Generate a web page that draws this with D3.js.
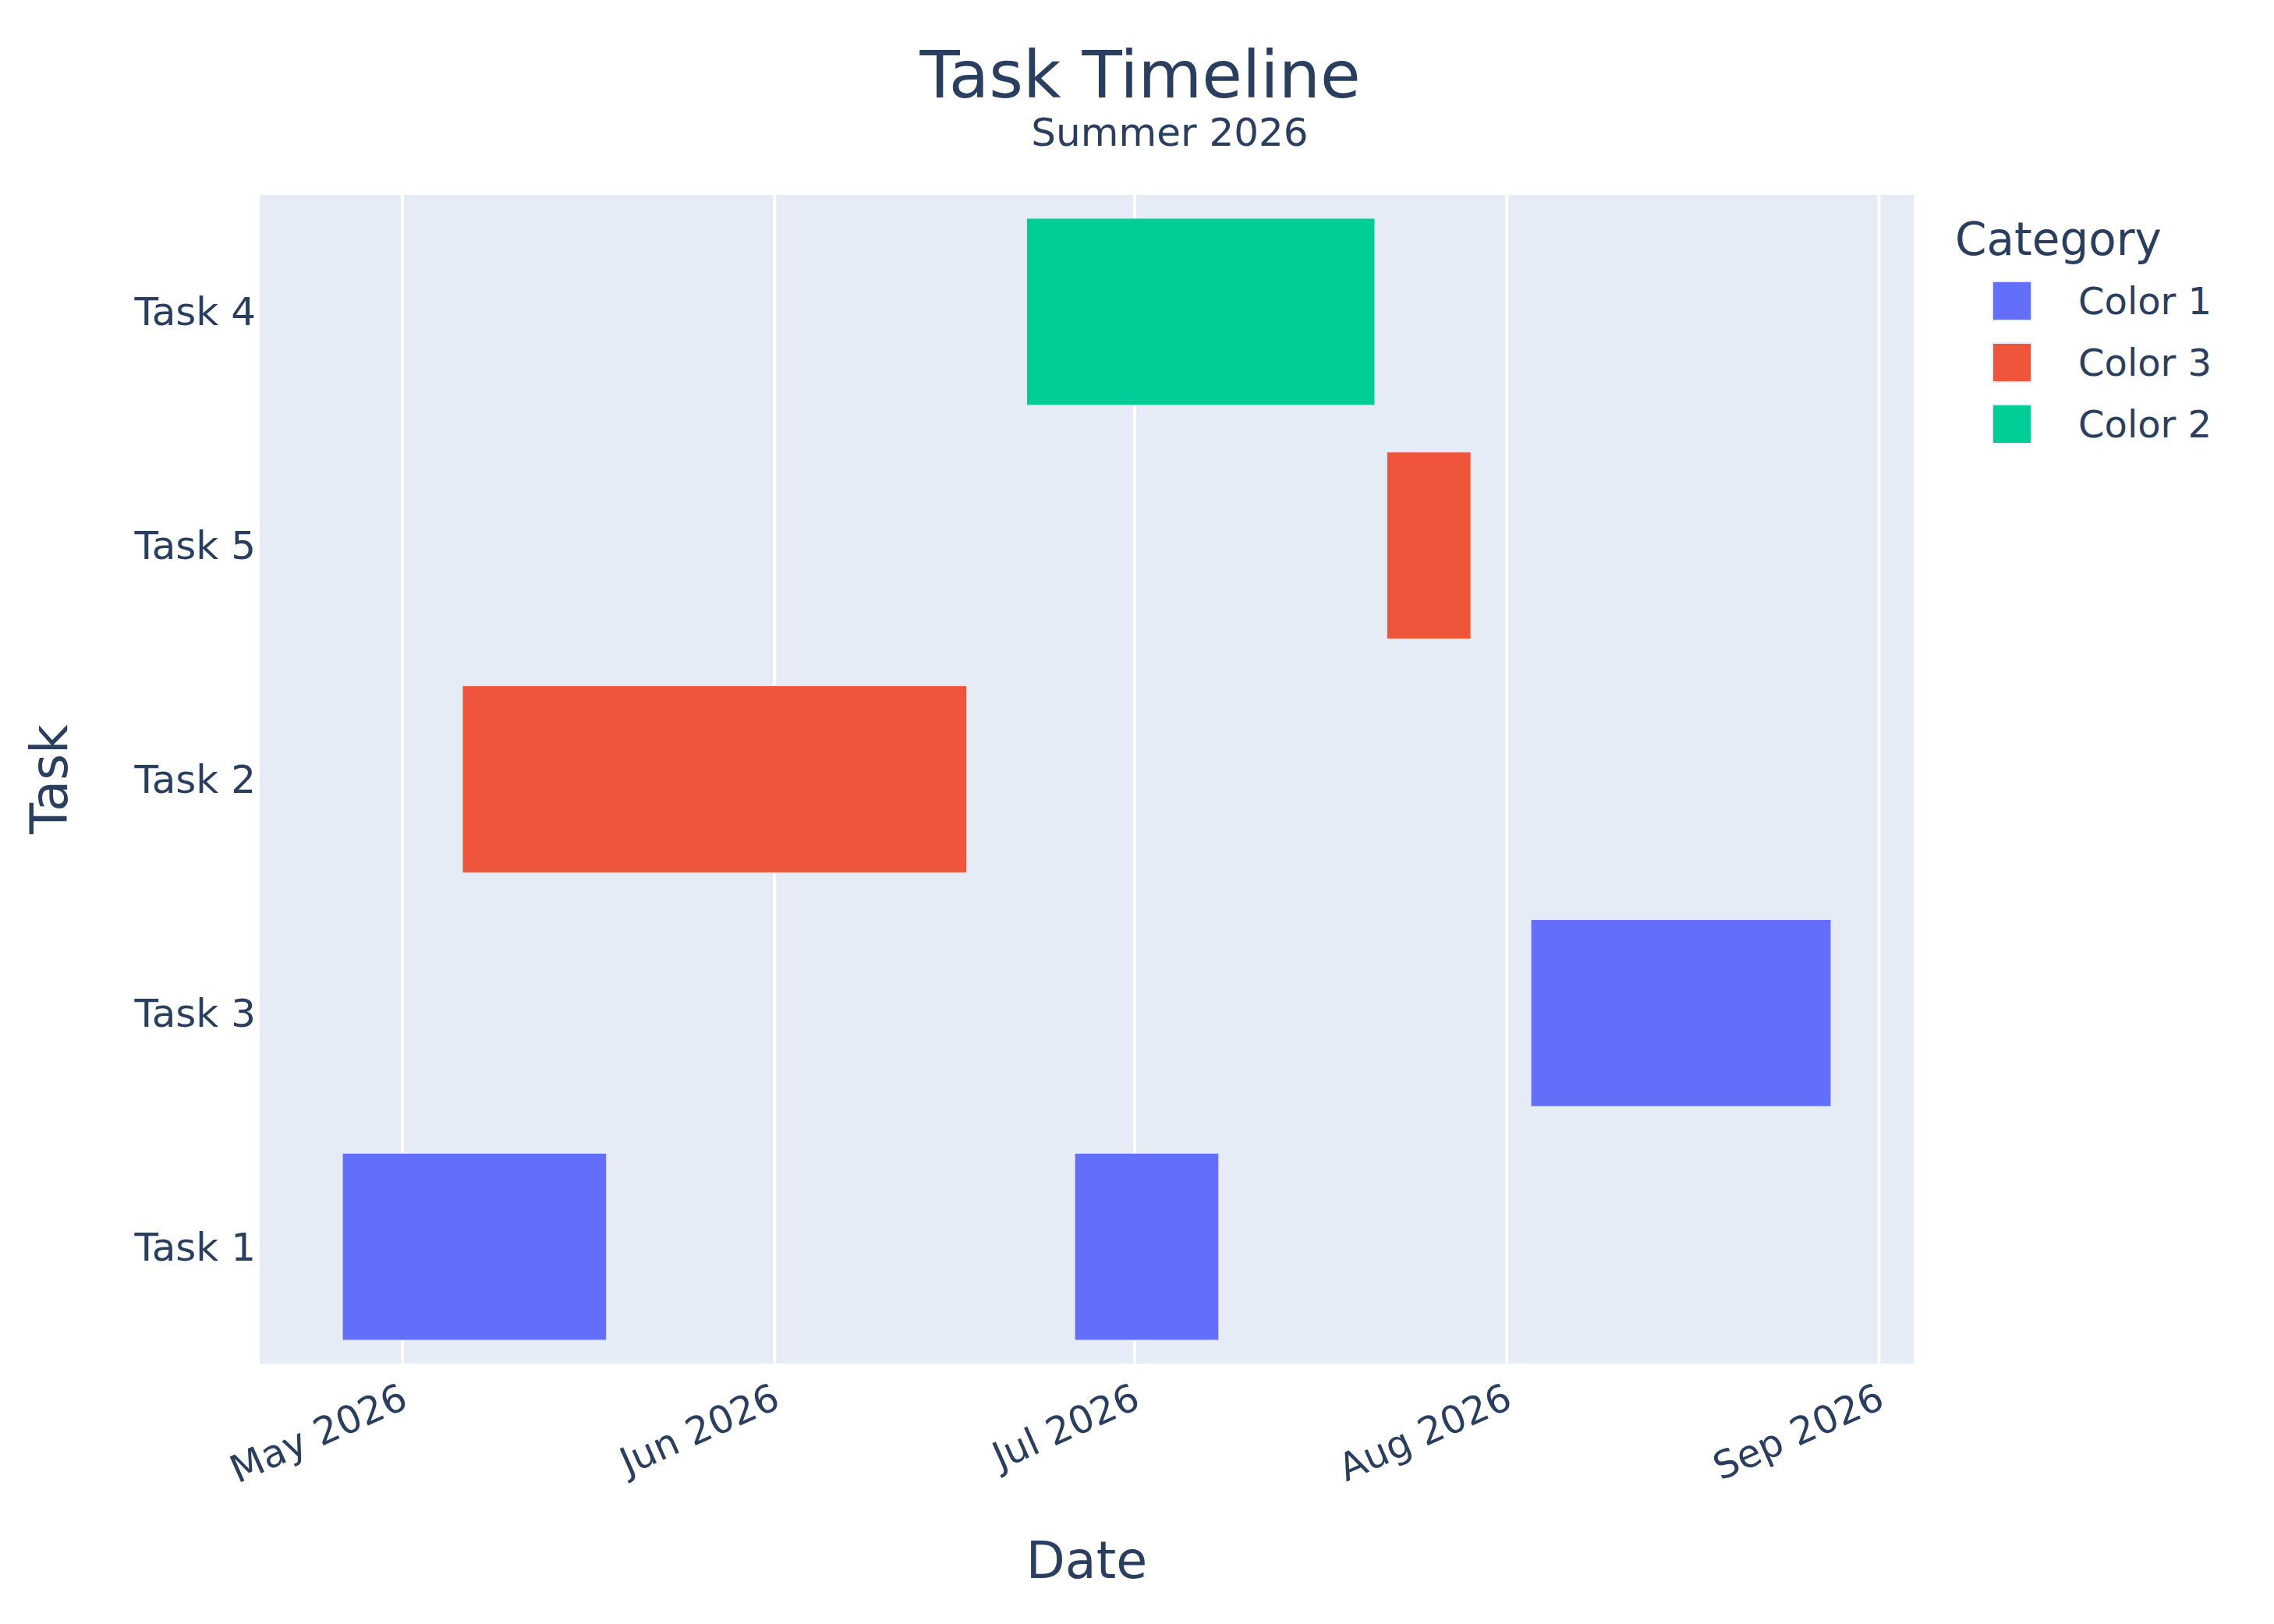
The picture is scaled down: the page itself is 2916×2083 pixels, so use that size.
<!DOCTYPE html>
<html>
<head>
<meta charset="utf-8">
<script src="https://cdn.jsdelivr.net/npm/d3@7"></script>
<style>
  body { margin: 0; background: #fff; }
  text { font-family: "DejaVu Sans", Verdana, sans-serif; fill: #2a3f5f; }
</style>
</head>
<body>
<div id="chart"></div>
<script>
// task rows, top to bottom as shown
const taskOrder = ["Task 4", "Task 5", "Task 2", "Task 3", "Task 1"];

// one entry per bar
const barTask = ["Task 1", "Task 2", "Task 1", "Task 4", "Task 5", "Task 3"];
const barStart = ["2026-04-26", "2026-05-06", "2026-06-26", "2026-06-22", "2026-07-22", "2026-08-03"];
const barEnd = ["2026-05-18", "2026-06-17", "2026-07-08", "2026-07-21", "2026-07-29", "2026-08-28"];
const barCategory = ["Color 1", "Color 3", "Color 1", "Color 2", "Color 3", "Color 1"];

// legend
const categories = ["Color 1", "Color 3", "Color 2"];
const categoryColors = ["#636efa", "#ef553b", "#00cc96"];

const width = 2916, height = 2083;
const margin = { top: 250, right: 462, bottom: 334, left: 333 };
const innerWidth = width - margin.left - margin.right;
const innerHeight = height - margin.top - margin.bottom;

const parse = d3.utcParse("%Y-%m-%d");
const bars = barTask.map((t, i) => ({
    task: t,
    start: parse(barStart[i]),
    end: parse(barEnd[i]),
    category: barCategory[i]
}));

const svg = d3.select("#chart").append("svg")
    .attr("width", width)
    .attr("height", height);

const g = svg.append("g")
    .attr("transform", `translate(${margin.left},${margin.top})`);

// x range padded like plotly's autorange (5% of the axis length on each side)
const minT = d3.min(bars, d => d.start).getTime();
const maxT = d3.max(bars, d => d.end).getTime();
const pad = (maxT - minT) * 0.05 / 0.9;

const x = d3.scaleUtc()
    .domain([new Date(minT - pad), new Date(maxT + pad)])
    .range([0, innerWidth]);

const y = d3.scaleBand()
    .domain(taskOrder)
    .range([0, innerHeight])
    .paddingInner(0.2)
    .paddingOuter(0.1);

const color = d3.scaleOrdinal()
    .domain(categories)
    .range(categoryColors);

// plot background
g.append("rect")
    .attr("width", innerWidth)
    .attr("height", innerHeight)
    .attr("fill", "#e5ecf6");

const monthTicks = x.ticks(d3.utcMonth.every(1));

// vertical grid
g.append("g")
    .selectAll("line")
    .data(monthTicks)
    .enter().append("line")
    .attr("x1", d => x(d))
    .attr("x2", d => x(d))
    .attr("y1", 0)
    .attr("y2", innerHeight)
    .attr("stroke", "#fff")
    .attr("stroke-width", 4);

// bars
g.selectAll("rect.bar")
    .data(bars)
    .enter().append("rect")
    .attr("class", "bar")
    .attr("x", d => x(d.start))
    .attr("y", d => y(d.task))
    .attr("width", d => x(d.end) - x(d.start))
    .attr("height", y.bandwidth())
    .attr("fill", d => color(d.category))
    .attr("stroke", "#e5ecf6")
    .attr("stroke-width", 1);

// x axis
const xAxis = g.append("g")
    .attr("transform", `translate(0,${innerHeight})`)
    .call(d3.axisBottom(x)
        .tickValues(monthTicks)
        .tickFormat(d3.utcFormat("%b %Y"))
        .tickSize(0));
xAxis.select(".domain").remove();
xAxis.selectAll("text")
    .attr("x", 0)
    .attr("y", 0)
    .attr("dy", "0.35em")
    .attr("text-anchor", "end")
    .attr("transform", "translate(2,40) rotate(-24)")
    .style("font-size", "49px")
    .style("fill", "#2a3f5f");

// y axis
const yAxis = g.append("g")
    .call(d3.axisLeft(y).tickSize(0).tickPadding(5));
yAxis.select(".domain").remove();
yAxis.selectAll("text")
    .attr("dy", "0.35em")
    .style("font-size", "50px")
    .style("fill", "#2a3f5f");

// axis titles
svg.append("text")
    .attr("text-anchor", "middle")
    .attr("x", margin.left + innerWidth / 2)
    .attr("y", 2024)
    .style("font-size", "65px")
    .text("Date");

svg.append("text")
    .attr("text-anchor", "middle")
    .attr("transform", `translate(86,${margin.top + innerHeight / 2}) rotate(-90)`)
    .style("font-size", "65px")
    .text("Task");

// title and subtitle
svg.append("text")
    .attr("text-anchor", "middle")
    .attr("x", 1462)
    .attr("y", 125)
    .style("font-size", "84px")
    .text("Task Timeline");

svg.append("text")
    .attr("text-anchor", "middle")
    .attr("x", 1500)
    .attr("y", 187)
    .style("font-size", "50px")
    .text("Summer 2026");

// legend
const legend = svg.append("g")
    .attr("transform", "translate(2507,0)");

legend.append("text")
    .attr("x", 0)
    .attr("y", 327)
    .style("font-size", "58px")
    .text("Category");

const item = legend.selectAll("g.item")
    .data(categories)
    .enter().append("g")
    .attr("class", "item")
    .attr("transform", (d, i) => `translate(0,${386 + i * 79})`);

item.append("rect")
    .attr("x", 48)
    .attr("y", -25)
    .attr("width", 50)
    .attr("height", 50)
    .attr("fill", d => color(d))
    .attr("stroke", "#e5ecf6")
    .attr("stroke-width", 2);

item.append("text")
    .attr("x", 158)
    .attr("dy", "0.35em")
    .style("font-size", "48px")
    .text(d => d);
</script>
</body>
</html>
